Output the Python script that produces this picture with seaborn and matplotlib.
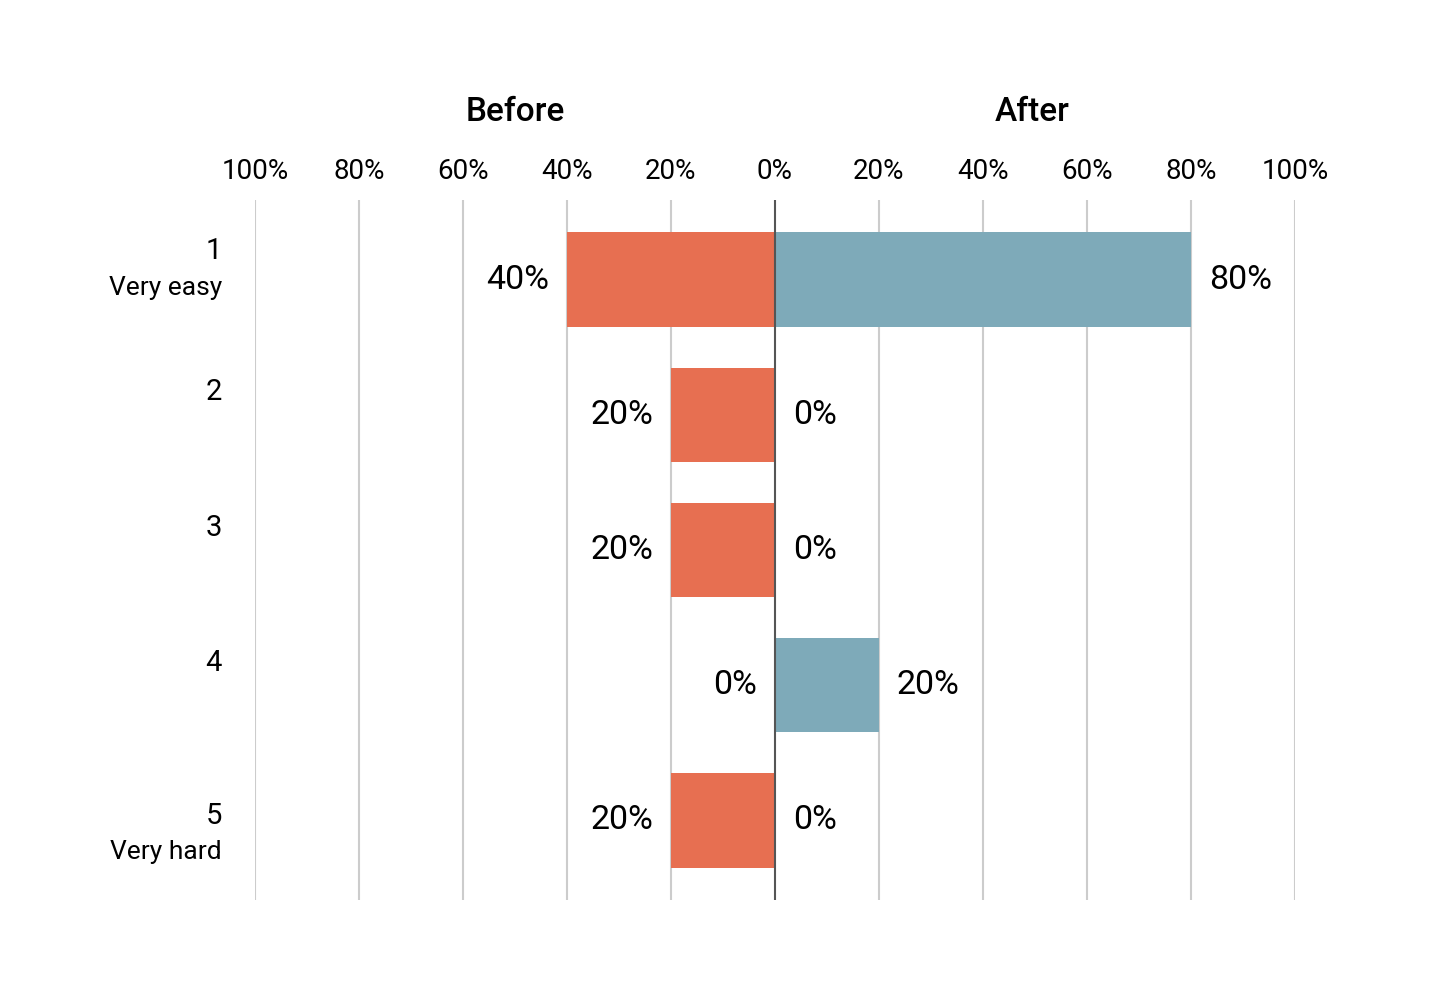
import matplotlib
matplotlib.use('Agg')
import numpy as np
import pandas as pd
import matplotlib.pyplot as plt
import seaborn as sns

sns.set_style('white')
plt.rcParams['font.family'] = ['Roboto', 'DejaVu Sans']
plt.rcParams['text.color'] = 'black'
plt.rcParams['xtick.color'] = 'black'
plt.rcParams['xtick.labelcolor'] = 'black'

# 数据
categories = ['1', '2', '3', '4', '5']
sublabels = ['Very easy', '', '', '', 'Very hard']
before = [40, 20, 20, 0, 20]
after = [80, 0, 0, 20, 0]
ticks = [-100, -80, -60, -40, -20, 0, 20, 40, 60, 80, 100]

col_before = '#E76F51'
col_after = '#7EAAB9'

df = pd.DataFrame({'cat': categories, 'before': [-v for v in before], 'after': after})

fig = plt.figure(figsize=(14.36, 10.08), dpi=100)
ax = fig.add_axes([255 / 1436, 1 - 900 / 1008, 1040 / 1436, 700 / 1008])

for t in ticks:
    if t != 0:
        ax.axvline(t, color='#cccccc', lw=1.5, zorder=0)

sns.barplot(data=df, x='before', y='cat', orient='h', color=col_before,
            width=0.7, saturation=1, linewidth=0, ax=ax, zorder=2)
sns.barplot(data=df, x='after', y='cat', orient='h', color=col_after,
            width=0.7, saturation=1, linewidth=0, ax=ax, zorder=2)
ax.axvline(0, color='#555555', lw=1.5, zorder=3)

ax.set_xlim(-100, 100)
ax.set_ylim(4.59, -0.59)
ax.set_xticks(ticks)
ax.set_xticklabels([f'{abs(t)}%' for t in ticks], fontsize=20)
ax.xaxis.tick_top()
ax.tick_params(axis='x', length=0, pad=11)
ax.set_yticks([])
ax.set_xlabel('')
ax.set_ylabel('')
sns.despine(ax=ax, left=True, bottom=True)
ax.spines['top'].set_visible(False)
ax.spines['right'].set_visible(False)

# 数值标签
for i, (b, a) in enumerate(zip(before, after)):
    ax.annotate(f'{b}%', xy=(-b, i), xytext=(-18, 0), textcoords='offset pixels',
                ha='right', va='center', fontsize=24.5)
    ax.annotate(f'{a}%', xy=(a, i), xytext=(18, 0), textcoords='offset pixels',
                ha='left', va='center', fontsize=24.5)

# 类别标签
num_off = [29, 23, 22, 22, 4]
for i, (c, s) in enumerate(zip(categories, sublabels)):
    ax.annotate(c, xy=(-100, i), xytext=(-33, num_off[i]), textcoords='offset pixels',
                ha='right', va='center', fontsize=21, annotation_clip=False)
    if s:
        sub_off = -8 if i == 0 else -32
        ax.annotate(s, xy=(-100, i), xytext=(-33, sub_off), textcoords='offset pixels',
                    ha='right', va='center', fontsize=19, annotation_clip=False)

# 标题
fig.text(515 / 1436, 1 - 112 / 1008, 'Before', ha='center', va='center',
         fontsize=24, fontweight='medium')
fig.text(1032 / 1436, 1 - 112 / 1008, 'After', ha='center', va='center',
         fontsize=24, fontweight='medium')

fig.savefig('out.png', dpi=100, facecolor='white')
